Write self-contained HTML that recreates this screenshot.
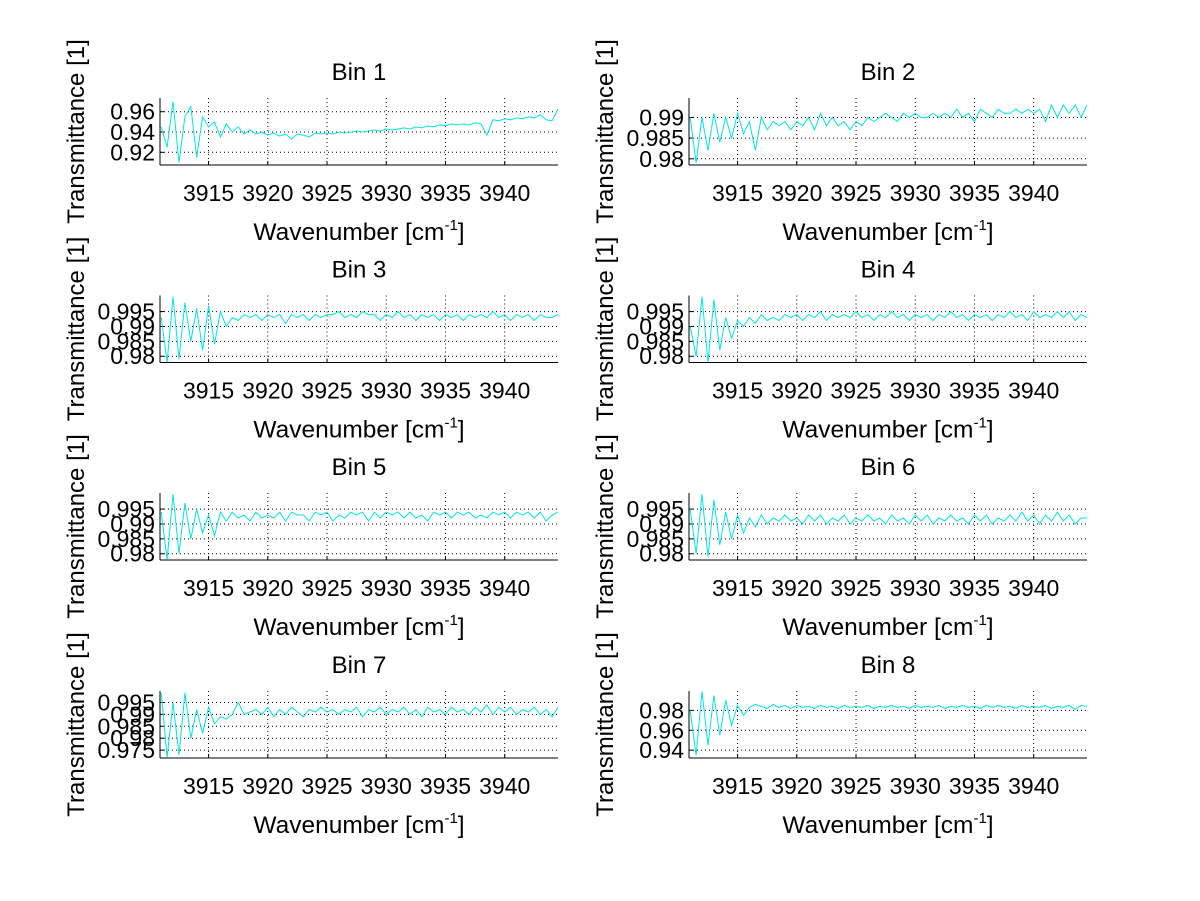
<!DOCTYPE html>
<html><head><meta charset="utf-8"><style>
html,body{margin:0;padding:0;background:#fff}
svg{display:block;font-family:"Liberation Sans",sans-serif}
</style></head><body>
<svg id="fig" width="1200" height="901" viewBox="0 0 1200 901"></svg>
<script>
const binTitles = ["Bin 1","Bin 2","Bin 3","Bin 4","Bin 5","Bin 6","Bin 7","Bin 8"];
const xTicks = [3915,3920,3925,3930,3935,3940];
const xRange = [3910.9,3944.5];
const yRanges = [[0.9075,0.9735],[0.9785,0.9947],[0.9779,1.0004],[0.9779,1.0004],[0.9779,1.0004],[0.9779,1.0004],[0.9717,0.9998],[0.9321,0.9995]];
const yTicks = [[0.92,0.94,0.96],[0.98,0.985,0.99],[0.98,0.985,0.99,0.995],[0.98,0.985,0.99,0.995],[0.98,0.985,0.99,0.995],[0.98,0.985,0.99,0.995],[0.975,0.98,0.985,0.99,0.995],[0.94,0.96,0.98]];
const yTickLabels = [["0.92","0.94","0.96"],["0.98","0.985","0.99"],["0.98","0.985","0.99","0.995"],["0.98","0.985","0.99","0.995"],["0.98","0.985","0.99","0.995"],["0.98","0.985","0.99","0.995"],["0.975","0.98","0.985","0.99","0.995"],["0.94","0.96","0.98"]];
const bin1 = [0.945,0.925,0.97,0.91,0.955,0.965,0.915,0.955,0.945,0.95,0.935,0.948,0.94,0.945,0.938,0.942,0.938,0.94,0.937,0.939,0.936,0.938,0.933,0.938,0.937,0.935,0.939,0.938,0.939,0.938,0.94,0.939,0.94,0.941,0.94,0.941,0.942,0.941,0.943,0.942,0.943,0.944,0.943,0.945,0.944,0.946,0.945,0.947,0.946,0.948,0.947,0.948,0.947,0.949,0.948,0.937,0.952,0.951,0.953,0.952,0.954,0.953,0.955,0.954,0.957,0.952,0.951,0.963];
const bin2 = [0.99,0.979,0.99,0.982,0.991,0.984,0.99,0.985,0.991,0.986,0.989,0.982,0.99,0.987,0.989,0.988,0.989,0.987,0.989,0.988,0.99,0.987,0.991,0.988,0.99,0.988,0.989,0.987,0.989,0.988,0.99,0.989,0.99,0.991,0.99,0.989,0.991,0.99,0.991,0.99,0.99,0.991,0.99,0.991,0.99,0.992,0.99,0.991,0.989,0.992,0.991,0.99,0.992,0.991,0.991,0.992,0.991,0.992,0.991,0.992,0.989,0.993,0.99,0.993,0.991,0.993,0.99,0.993];
const bin3 = [0.993,0.978,1.0,0.979,0.998,0.985,0.996,0.982,0.997,0.984,0.995,0.99,0.993,0.992,0.994,0.993,0.994,0.992,0.994,0.993,0.994,0.991,0.994,0.993,0.994,0.992,0.994,0.993,0.994,0.994,0.995,0.993,0.994,0.993,0.995,0.994,0.994,0.992,0.994,0.993,0.995,0.993,0.994,0.992,0.994,0.993,0.994,0.992,0.994,0.993,0.994,0.992,0.994,0.993,0.994,0.993,0.995,0.993,0.994,0.992,0.994,0.993,0.994,0.992,0.994,0.993,0.993,0.994];
const bin4 = [0.99,0.98,1.0,0.978,0.999,0.982,0.993,0.986,0.992,0.99,0.993,0.991,0.994,0.992,0.993,0.992,0.994,0.993,0.994,0.992,0.994,0.993,0.995,0.992,0.994,0.993,0.994,0.993,0.995,0.993,0.994,0.992,0.994,0.993,0.995,0.993,0.994,0.992,0.994,0.993,0.994,0.992,0.994,0.993,0.995,0.993,0.994,0.992,0.994,0.993,0.994,0.992,0.994,0.993,0.995,0.993,0.994,0.992,0.995,0.993,0.994,0.993,0.995,0.993,0.995,0.992,0.994,0.993];
const bin5 = [0.994,0.978,1.0,0.98,0.997,0.985,0.995,0.987,0.993,0.986,0.994,0.991,0.994,0.992,0.993,0.991,0.994,0.992,0.993,0.992,0.994,0.991,0.994,0.993,0.993,0.991,0.994,0.993,0.994,0.991,0.993,0.992,0.994,0.993,0.994,0.991,0.994,0.992,0.994,0.993,0.994,0.992,0.994,0.992,0.993,0.991,0.994,0.993,0.994,0.992,0.994,0.993,0.994,0.992,0.993,0.992,0.994,0.993,0.994,0.992,0.994,0.993,0.994,0.992,0.994,0.991,0.993,0.994];
const bin6 = [0.995,0.98,1.0,0.979,0.998,0.983,0.994,0.985,0.993,0.987,0.992,0.989,0.993,0.99,0.992,0.991,0.993,0.991,0.992,0.99,0.993,0.991,0.993,0.99,0.992,0.991,0.993,0.99,0.992,0.991,0.993,0.991,0.992,0.99,0.993,0.991,0.992,0.99,0.993,0.991,0.993,0.99,0.992,0.991,0.993,0.991,0.992,0.99,0.993,0.991,0.993,0.99,0.992,0.991,0.993,0.991,0.994,0.991,0.993,0.99,0.993,0.991,0.994,0.991,0.993,0.99,0.992,0.992];
const bin7 = [0.999,0.972,0.995,0.973,0.999,0.98,0.992,0.982,0.993,0.986,0.989,0.988,0.99,0.995,0.99,0.991,0.992,0.99,0.993,0.989,0.992,0.99,0.993,0.991,0.989,0.992,0.991,0.993,0.991,0.992,0.99,0.992,0.991,0.993,0.989,0.992,0.991,0.993,0.99,0.992,0.991,0.993,0.99,0.992,0.989,0.993,0.991,0.992,0.99,0.993,0.991,0.992,0.99,0.993,0.991,0.994,0.99,0.993,0.991,0.993,0.99,0.992,0.991,0.993,0.99,0.992,0.989,0.993];
const bin8 = [0.98,0.935,0.999,0.945,0.995,0.955,0.99,0.965,0.985,0.975,0.983,0.986,0.984,0.982,0.986,0.983,0.985,0.982,0.985,0.983,0.984,0.982,0.985,0.983,0.984,0.982,0.985,0.983,0.984,0.983,0.985,0.982,0.984,0.983,0.985,0.983,0.984,0.982,0.985,0.983,0.984,0.983,0.985,0.982,0.984,0.983,0.985,0.983,0.984,0.982,0.985,0.983,0.985,0.983,0.984,0.982,0.985,0.983,0.984,0.983,0.985,0.982,0.984,0.983,0.985,0.981,0.985,0.984];
const series = [bin1,bin2,bin3,bin4,bin5,bin6,bin7,bin8];

const NS="http://www.w3.org/2000/svg";
const svg=document.getElementById('fig');
function mk(tag,attrs,parent,text){const e=document.createElementNS(NS,tag);for(const k in attrs)e.setAttribute(k,attrs[k]);if(text!==undefined)e.textContent=text;(parent||svg).appendChild(e);return e;}
const colX=[160,689], axW=398, rowTop=[98,295.5,493,691], axH=67;
for(let b=0;b<8;b++){
  const col=b%2,row=Math.floor(b/2);
  const L=colX[col],T=rowTop[row],R=L+axW,B=T+axH;
  const g=mk('g',{});
  
  
  const sx=v=>L+(v-xRange[0])/(xRange[1]-xRange[0])*axW;
  const yr=yRanges[b];
  const sy=v=>B-(v-yr[0])/(yr[1]-yr[0])*axH;
  xTicks.forEach(t=>{const x=sx(t);
    const gl=mk('line',{x1:x,x2:x,y1:T,y2:B,stroke:'#000','stroke-width':1,'stroke-dasharray':'1,3'},g);
    
    
    mk('line',{x1:x,x2:x,y1:B,y2:B-4,stroke:'#000'},g);
    const tl=mk('text',{x:x,y:B+36,'text-anchor':'middle','font-size':23},g,String(t));
    
    
  });
  yTicks[b].forEach((t,i)=>{const y=sy(t);
    const gl=mk('line',{x1:L,x2:R,y1:y,y2:y,stroke:'#000','stroke-width':1,'stroke-dasharray':'1,3'},g);
    
    
    mk('line',{x1:L,x2:L+4,y1:y,y2:y,stroke:'#000'},g);
    const tl=mk('text',{x:L-5,y:y+8,'text-anchor':'end','font-size':23},g,yTickLabels[b][i]);
    
    
  });
  mk('line',{x1:L,x2:R,y1:B,y2:B,stroke:'#000','stroke-width':1},g);
  mk('line',{x1:L,x2:L,y1:T,y2:B,stroke:'#000','stroke-width':1},g);
  const d=series[b];const n=d.length;
  let pts=d.map((v,i)=>{const xv=3911+i*(33.5/(n-1));return sx(xv).toFixed(1)+','+sy(Math.max(yr[0],Math.min(yr[1],v))).toFixed(1);}).join(' ');
  const pl=mk('polyline',{points:pts,fill:'none',stroke:'#00e5e5','stroke-width':1},g);
  
  
  const ti=mk('text',{x:L+axW/2,y:T-18,'text-anchor':'middle','font-size':24},g,binTitles[b]);
  
  
  const xl=mk('text',{x:L+axW/2,y:B+75,'text-anchor':'middle','font-size':24.5},g);
  
  
  mk('tspan',{},xl,'Wavenumber [cm');
  mk('tspan',{'font-size':15,dy:-10},xl,'-1');
  mk('tspan',{dy:10},xl,']');
  const yx=L-76,yc=T+axH/2;
  const yl=mk('text',{x:yx,y:yc,'text-anchor':'middle','font-size':24,transform:'rotate(-90 '+yx+' '+yc+')'},g,'Transmittance [1]');
  
  
}
</script>
</body></html>
